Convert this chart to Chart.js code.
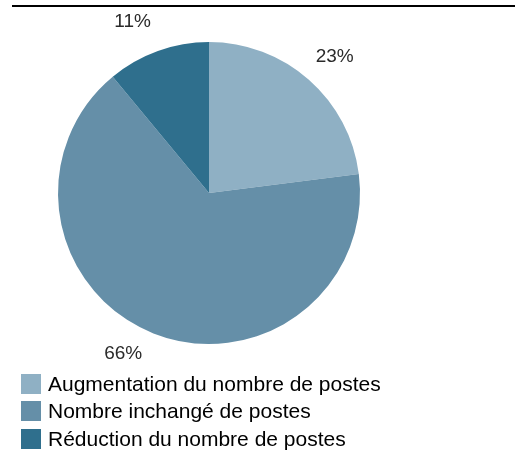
<!DOCTYPE html>
<html><head><meta charset="utf-8">
<script src="https://cdn.jsdelivr.net/npm/chart.js@4"></script>
<style>
html,body{margin:0;padding:0;background:#fff;}
#wrap{position:relative;width:515px;height:454px;overflow:hidden;}
#topline{position:absolute;left:12px;top:5px;width:503px;height:2px;background:#000;}
#c{position:absolute;left:0;top:0;}
#legend{position:absolute;left:21px;top:370px;font-family:"Liberation Sans",Arial,sans-serif;font-size:21px;color:#000;}
.li{display:flex;align-items:center;height:27.5px;}
.sw{width:20px;height:20px;margin-right:7px;}
</style></head>
<body>
<div id="wrap">
<canvas id="c" width="515" height="454"></canvas>
<div id="topline"></div>
<div id="legend"></div>
</div>
<script>
const categories = ["Augmentation du nombre de postes", "Nombre inchangé de postes", "Réduction du nombre de postes"];
const values = [23, 66, 11];
const labels = ["23%", "66%", "11%"];
const colors = ["#8fb0c4", "#658fa8", "#2f6f8d"];
// small label nudges (style only), relative to the arc's outside position
const labelNudge = [[2, 4], [-17, -13], [-13, 5]];

const leg = document.getElementById('legend');
categories.forEach((c,i)=>{
  const d=document.createElement('div');d.className='li';
  const s=document.createElement('div');s.className='sw';s.style.background=colors[i];
  const t=document.createElement('span');t.textContent=c;
  d.appendChild(s);d.appendChild(t);leg.appendChild(d);
});

const labelPlugin = {
  id:'outLabels',
  afterDatasetsDraw(chart){
    const ctx=chart.ctx;
    const meta=chart.getDatasetMeta(0);
    ctx.save();
    ctx.font='19px "Liberation Sans", Arial, sans-serif';
    ctx.fillStyle='#2a2a2a';
    ctx.textAlign='center';ctx.textBaseline='middle';
    meta.data.forEach((arc,i)=>{
      const a=(arc.startAngle+arc.endAngle)/2;
      const r=arc.outerRadius+36;
      ctx.fillText(labels[i], arc.x+Math.cos(a)*r+labelNudge[i][0], arc.y+Math.sin(a)*r+labelNudge[i][1]);
    });
    ctx.restore();
  }
};

new Chart(document.getElementById('c'),{
  type:'pie',
  data:{labels:categories,datasets:[{data:values,backgroundColor:colors,borderWidth:0}]},
  options:{
    responsive:false,animation:false,
    layout:{padding:{left:58,right:155,top:42,bottom:110}},
    plugins:{legend:{display:false},tooltip:{enabled:false}}
  },
  plugins:[labelPlugin]
});
</script>
</body></html>
